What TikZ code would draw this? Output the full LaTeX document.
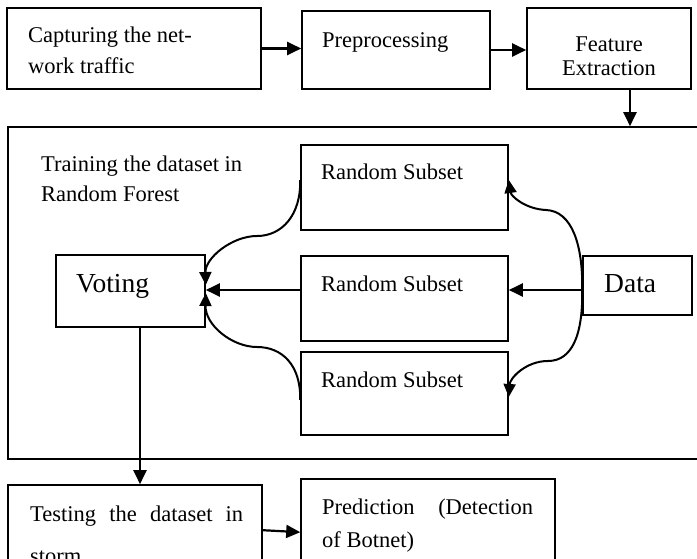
\documentclass[tikz,border=0pt]{standalone}
\usepackage{fontspec}
\setmainfont{Liberation Serif}
\usetikzlibrary{arrows.meta,calc}
\begin{document}
\begin{tikzpicture}[x=1pt,y=-1pt,
  box/.style={draw, line width=1.6pt, inner sep=0pt},
  arr/.style={line width=2.2pt, -{Triangle[length=14pt,width=13pt]}},
  carr/.style={line width=2pt, -{Triangle[length=13pt,width=12pt]}},
  txt/.style={inner sep=0pt, anchor=base west, font=\fontsize{22.5}{27}\selectfont},
  ctxt/.style={inner sep=0pt, anchor=base, font=\fontsize{22.5}{27}\selectfont},
  btxt/.style={inner sep=0pt, anchor=base west, font=\fontsize{27.5}{32}\selectfont}]
\useasboundingbox (0,0) rectangle (697,559);

% top row
\node[box, minimum width=254pt, minimum height=81pt] (cap)  at (134,48.5) {};
\node[box, minimum width=188pt, minimum height=78pt] (prep) at (396,50) {};
\node[box, minimum width=164pt, minimum height=81pt] (feat) at (609,48.5) {};
\node[txt] (capa) at (28,43) {Capturing the net-};
\node[txt] (capb) at (28,74) {work traffic};
\node[txt] (prept) at (322,48) {Preprocessing};
\node[ctxt] (feata) at (609,52) {Feature};
\node[ctxt] (featb) at (609,76) {Extraction};

% big container (right side runs off the page)
\node[box, minimum width=712pt, minimum height=332pt] (rf) at (364,293) {};
\node[txt] (rfa) at (41,172) {Training the dataset in};
\node[txt] (rfb) at (41,202) {Random Forest};

% inner boxes
\node[box, minimum width=207pt, minimum height=85pt] (s1) at (404.5,187.5) {};
\node[box, minimum width=207pt, minimum height=85pt] (s2) at (404.5,298.5) {};
\node[box, minimum width=207pt, minimum height=83pt] (s3) at (404.5,393.5) {};
\node[txt] (s1t) at (321,180) {Random Subset};
\node[txt] (s2t) at (321,291) {Random Subset};
\node[txt] (s3t) at (321,387) {Random Subset};
\node[box, minimum width=149pt, minimum height=72pt] (vote) at (130.5,291) {};
\node[box, minimum width=109pt, minimum height=59pt] (data) at (637.5,285.5) {};
\node[btxt] (votet) at (76,293) {Voting};
\node[btxt] (datat) at (604,292) {Data};

% bottom row (runs off the page)
\node[box, minimum width=254pt, minimum height=115pt] (test) at (135,542.5) {};
\node[box, minimum width=254pt, minimum height=121pt] (pred) at (428,539.5) {};
\node[txt] (testa) at (30,521) {\makebox[213pt][s]{Testing the dataset in}};
\node[txt] (testb) at (30,563) {storm};
\node[txt] (preda) at (322,514) {\makebox[211pt][s]{Prediction (Detection}};
\node[txt] (predb) at (322,547) {of Botnet)};

% connectors, top row
\draw[arr] (cap.east) -- (cap.east -| prep.west);
\draw[arr] (prep.east) -- (prep.east -| feat.west);
\draw[arr] ($(feat.south)+(21,0)$) coordinate (fdown) -- (fdown |- rf.north);

% connectors inside
\coordinate (d0) at ($(data.west)+(0,4.5)$);
\draw[arr] (d0) -- (d0 -| s2.east);
\draw[arr] (d0 -| s2.west) -- (d0 -| vote.east);
\draw[carr] (d0) .. controls (583,245) and (572,211) .. (546,210)
  .. controls (525,209) and (511,196) .. ($(s1.east)+(0,-7.5)$);
\draw[carr] (d0) .. controls (583,335) and (572,361) .. (548,361)
  .. controls (526,361) and (510,378) .. ($(s3.east)+(0,3.5)$);
\draw[carr] ($(s1.west)+(0,-7.5)$) .. controls (301,215) and (282,236) .. (257,236)
  .. controls (232,236) and (205,258) .. ($(vote.east)+(0,-6)$);
\draw[carr] ($(s3.west)+(0,6.5)$) .. controls (301,365) and (282,347) .. (257,347)
  .. controls (232,347) and (205,325) .. ($(vote.east)+(0,2)$);

% connectors, bottom
\draw[arr] ($(vote.south)+(9.5,0)$) coordinate (vdown) -- (vdown |- test.north);
\draw[arr] ($(test.north east)+(0,46)$) -- ($(pred.north west)+(0,54)$);
\end{tikzpicture}
\end{document}
